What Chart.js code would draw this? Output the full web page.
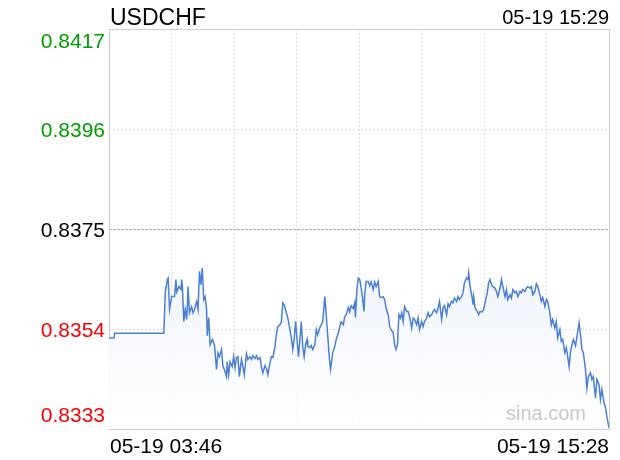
<!DOCTYPE html>
<html><head><meta charset="utf-8">
<script src="https://cdn.jsdelivr.net/npm/chart.js@4.4.0/dist/chart.umd.min.js"></script>
<style>html,body{margin:0;padding:0;background:#fff;}#wrap{width:620px;height:460px;}</style>
</head><body><div id="wrap"><canvas id="c" width="620" height="460"></canvas></div>
<script>
const symbol = 'USDCHF';
const stamp = '05-19 15:29';
const startLabel = '05-19 03:46';
const endLabel = '05-19 15:28';
const watermark = 'sina.com';
const yTicks = [0.8333, 0.8354, 0.8375, 0.8396, 0.8417];
const prevClose = 0.8375;
const xSpan = 702;          // minutes from 03:46 to 15:28
const xDivisions = 8;

// minutes since 05-19 03:46
const minutes = [
0,7,8,77,79,82,83,85,88,92,
94,95,98,101,102,103,105,107,109,110,
111,113,116,118,120,123,125,127,129,131,
133,135,137,138,140,142,145,148,151,153,
155,158,160,162,165,166,168,170,173,175,
177,179,181,183,186,188,190,193,195,198,
200,202,205,207,209,212,214,216,219,221,
223,226,228,230,233,235,237,240,242,244,
246,249,251,254,256,258,260,262,264,266,
268,270,272,274,276,278,279,282,284,286,
289,291,293,296,298,300,303,305,307,309,
311,313,314,317,319,322,324,326,329,331,
333,336,338,340,343,345,346,348,350,352,
354,356,358,359,361,364,366,368,371,373,
375,378,380,382,385,387,389,392,394,396,
399,401,403,405,407,409,411,413,415,418,
420,422,425,427,429,432,434,436,439,441,
443,446,448,450,453,455,457,460,462,464,
467,469,471,474,476,478,481,483,485,488,
490,492,495,497,499,502,504,505,507,510,
511,512,514,517,519,521,524,526,528,531,
533,535,537,539,542,544,546,549,551,553,
556,558,560,563,565,567,570,572,574,577,
579,581,584,586,588,591,593,595,598,600,
602,605,607,609,612,614,616,619,621,623,
626,628,630,633,635,637,640,642,644,646,
648,650,652,655,657,660,662,664,666,669,
671,673,676,678,680,683,685,688,690,692,
695,697,699,702
];

const prices = [
0.83521,0.83521,0.83531,0.83531,0.83618,0.83644,0.83647,0.83581,0.83608,0.83608,
0.83644,0.83618,0.83629,0.83623,0.83644,0.83631,0.83556,0.83581,0.83560,0.83587,
0.83629,0.83574,0.83587,0.83574,0.83581,0.83598,0.83581,0.83661,0.83633,0.83668,
0.83602,0.83608,0.83581,0.83526,0.83564,0.83507,0.83518,0.83507,0.83455,0.83490,
0.83482,0.83497,0.83461,0.83455,0.83440,0.83471,0.83444,0.83471,0.83461,0.83482,
0.83459,0.83480,0.83482,0.83440,0.83476,0.83461,0.83444,0.83488,0.83476,0.83482,
0.83476,0.83484,0.83478,0.83484,0.83476,0.83480,0.83461,0.83448,0.83463,0.83457,
0.83444,0.83469,0.83482,0.83480,0.83503,0.83528,0.83545,0.83549,0.83555,0.83595,
0.83591,0.83574,0.83564,0.83539,0.83522,0.83497,0.83518,0.83556,0.83518,0.83482,
0.83518,0.83555,0.83503,0.83482,0.83507,0.83518,0.83503,0.83501,0.83505,0.83497,
0.83507,0.83539,0.83528,0.83543,0.83549,0.83555,0.83608,0.83570,0.83528,0.83486,
0.83455,0.83476,0.83490,0.83503,0.83518,0.83532,0.83545,0.83555,0.83549,0.83566,
0.83570,0.83585,0.83576,0.83589,0.83583,0.83595,0.83564,0.83623,0.83647,0.83644,
0.83627,0.83606,0.83577,0.83612,0.83640,0.83640,0.83631,0.83639,0.83623,0.83639,
0.83629,0.83640,0.83608,0.83606,0.83608,0.83602,0.83584,0.83570,0.83545,0.83539,
0.83532,0.83507,0.83497,0.83507,0.83570,0.83563,0.83574,0.83556,0.83587,0.83577,
0.83577,0.83566,0.83542,0.83563,0.83560,0.83549,0.83563,0.83539,0.83556,0.83545,
0.83556,0.83563,0.83574,0.83566,0.83570,0.83577,0.83581,0.83574,0.83584,0.83598,
0.83560,0.83584,0.83589,0.83570,0.83593,0.83587,0.83598,0.83595,0.83605,0.83598,
0.83608,0.83602,0.83608,0.83616,0.83637,0.83647,0.83644,0.83658,0.83629,0.83605,
0.83591,0.83608,0.83584,0.83577,0.83570,0.83577,0.83576,0.83581,0.83595,0.83616,
0.83637,0.83644,0.83633,0.83629,0.83626,0.83619,0.83608,0.83626,0.83644,0.83629,
0.83608,0.83623,0.83602,0.83612,0.83605,0.83623,0.83616,0.83619,0.83608,0.83619,
0.83616,0.83623,0.83619,0.83626,0.83629,0.83626,0.83629,0.83612,0.83619,0.83635,
0.83629,0.83612,0.83598,0.83606,0.83587,0.83602,0.83597,0.83574,0.83549,0.83560,
0.83542,0.83555,0.83521,0.83539,0.83514,0.83518,0.83490,0.83501,0.83482,0.83461,
0.83493,0.83507,0.83518,0.83505,0.83524,0.83553,0.83528,0.83497,0.83490,0.83455,
0.83416,0.83440,0.83448,0.83434,0.83440,0.83395,0.83434,0.83423,0.83392,0.83413,
0.83385,0.83377,0.83356,0.83332
];

const FONT = '"Liberation Sans", Arial, Helvetica, sans-serif';
const n = Math.min(minutes.length, prices.length);
const points = [];
for (let i = 0; i < n; i++) points.push({x: minutes[i], y: prices[i]});

const textPlugin = {
  id: 'texts',
  beforeDatasetsDraw(chart) {
    const ca = chart.chartArea, ctx = chart.ctx;
    ctx.save();
    ctx.strokeStyle = '#cfcfcf';
    ctx.lineWidth = 1;
    ctx.strokeRect(Math.round(ca.left) + 0.5, Math.round(ca.top) + 0.5,
                   Math.round(ca.right - ca.left), Math.round(ca.bottom - ca.top));
    ctx.restore();
  },
  afterDatasetsDraw(chart) {
    const ca = chart.chartArea, ctx = chart.ctx;
    ctx.save();
    ctx.fillStyle = '#c8c8c8';
    ctx.font = '20px ' + FONT;
    ctx.textAlign = 'right';
    ctx.textBaseline = 'alphabetic';
    ctx.fillText(watermark, ca.right - 23, ca.bottom - 9);
    ctx.restore();
  },
  afterDraw(chart) {
    const ca = chart.chartArea, ctx = chart.ctx, ys = chart.scales.y;
    ctx.save();
    ctx.textBaseline = 'alphabetic';
    ctx.fillStyle = '#000';
    ctx.font = '23px ' + FONT;
    ctx.textAlign = 'left';
    ctx.fillText(symbol, ca.left + 1, 24.5);
    ctx.font = '20px ' + FONT;
    ctx.textAlign = 'right';
    ctx.fillText(stamp, ca.right, 23.5);
    ctx.font = '21px ' + FONT;
    ctx.textAlign = 'right';
    yTicks.forEach((v, i) => {
      const py = ys.getPixelForValue(v);
      let off = 7.5;
      if (i === yTicks.length - 1) off = 18.5;
      else if (i === 0) off = -7.5;
      ctx.fillStyle = v > prevClose + 1e-9 ? '#00a000' : (v < prevClose - 1e-9 ? '#ff0000' : '#000000');
      ctx.fillText(v.toFixed(4), ca.left - 4, py + off);
    });
    ctx.fillStyle = '#000';
    ctx.font = '21px ' + FONT;
    ctx.textAlign = 'left';
    ctx.fillText(startLabel, ca.left + 1, ca.bottom + 23.5);
    ctx.textAlign = 'right';
    ctx.fillText(endLabel, ca.right, ca.bottom + 23.5);
    ctx.restore();
  }
};

new Chart(document.getElementById('c'), {
  type: 'line',
  data: {
    datasets: [{
      data: points,
      borderColor: '#4a80d8',
      borderWidth: 1.5,
      pointRadius: 0,
      tension: 0,
      fill: 'start',
      backgroundColor: (ctx) => {
        const ca = ctx.chart.chartArea;
        if (!ca) return 'rgba(230,238,250,0.6)';
        const g = ctx.chart.ctx.createLinearGradient(0, ca.top, 0, ca.bottom);
        g.addColorStop(0, 'rgba(214,227,248,0.9)');
        g.addColorStop(1, 'rgba(255,255,255,0.9)');
        return g;
      }
    }]
  },
  options: {
    responsive: false,
    animation: false,
    devicePixelRatio: 1,
    layout: {padding: {left: 109, right: 11, top: 29, bottom: 31}},
    plugins: {legend: {display: false}, tooltip: {enabled: false}, title: {display: false}},
    scales: {
      x: {
        type: 'linear', min: 0, max: xSpan,
        afterBuildTicks: (s) => { const t = []; for (let i = 0; i <= xDivisions; i++) t.push({value: i * xSpan / xDivisions}); s.ticks = t; },
        ticks: {display: false},
        grid: {color: '#dcdcdc', lineWidth: 1, drawTicks: false},
        border: {display: false, dash: [2, 2]}
      },
      y: {
        min: yTicks[0], max: yTicks[yTicks.length - 1],
        afterBuildTicks: (s) => { s.ticks = yTicks.map(v => ({value: v})); },
        ticks: {display: false},
        grid: {
          color: (c) => (c.tick && Math.abs(c.tick.value - prevClose) < 1e-9) ? '#b0b0b0' : '#dcdcdc',
          lineWidth: 1, drawTicks: false
        },
        border: {
          display: false,
          dash: (c) => (c.tick && Math.abs(c.tick.value - prevClose) < 1e-9) ? [3, 1] : [2, 2]
        }
      }
    }
  },
  plugins: [textPlugin]
});
</script>
</body></html>
